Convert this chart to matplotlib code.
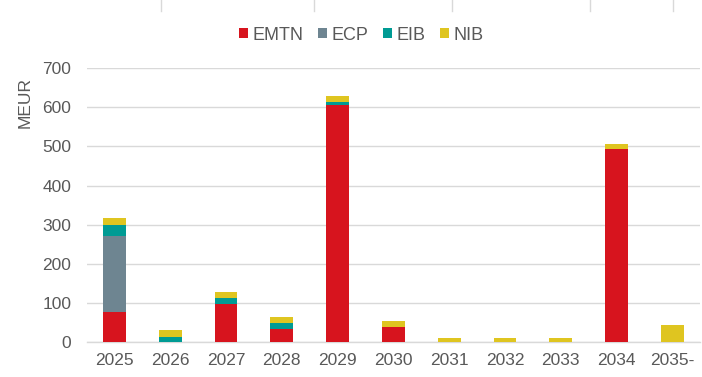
"""Stacked maturity profile of funding by instrument (MEUR)."""

import matplotlib
matplotlib.use("Agg")
import matplotlib.pyplot as plt
import numpy as np
from matplotlib.lines import Line2D
from matplotlib.patches import Patch

plt.rcParams["font.family"] = ["Liberation Sans", "DejaVu Sans"]

years = ["2025", "2026", "2027", "2028", "2029", "2030",
         "2031", "2032", "2033", "2034", "2035-"]
emtn = [77, 0, 99, 34, 606, 39, 0, 0, 0, 494, 0]
ecp = [195, 0, 0, 0, 0, 0, 0, 0, 0, 0, 0]
eib = [28, 14, 14, 15, 8, 0, 0, 0, 0, 0, 0]
nib = [18, 18, 15, 15, 15, 15, 11, 11, 11, 13, 44]

series = [("EMTN", emtn, "#d7141e"),
          ("ECP", ecp, "#6e8591"),
          ("EIB", eib, "#009b94"),
          ("NIB", nib, "#dfc520")]

TXT = "#595959"
GRID = "#d9d9d9"
FS = 12.5
W, H = 702, 377

fig = plt.figure(figsize=(W / 100, H / 100), dpi=100)
ax = fig.add_axes([86.6 / W, 34.7 / H, 613.6 / W, 274.3 / H])

x = np.arange(len(years))
bottom = np.zeros(len(years))
for name, vals, col in series:
    ax.bar(x, vals, width=0.41, bottom=bottom, color=col, zorder=3)
    bottom += np.array(vals)

ax.set_xlim(-0.5, len(years) - 0.5)
ax.set_ylim(0, 700)
ax.set_yticks(range(0, 701, 100))
ax.set_xticks(x)
ax.set_xticklabels(years)
ax.tick_params(axis="both", length=0, labelsize=FS, labelcolor=TXT)
ax.tick_params(axis="y", pad=11)
ax.tick_params(axis="x", pad=8)
ax.grid(axis="y", color=GRID, lw=1, zorder=0)
for side in ("top", "right", "left"):
    ax.spines[side].set_visible(False)
ax.spines["bottom"].set_color(GRID)
ax.spines["bottom"].set_linewidth(1)

fig.text(25 / W, 1 - 103 / H, "MEUR", rotation=90, ha="center", va="center",
         fontsize=FS, color=TXT)

handles = [Patch(facecolor=c, edgecolor="none") for _, _, c in series]
labels = [n for n, _, _ in series]
leg = fig.legend(handles, labels, loc="center", bbox_to_anchor=(361 / W, 1 - 35 / H),
                 ncol=4, frameon=False, fontsize=FS + 0.5, handlelength=0.5,
                 handleheight=0.5, handletextpad=0.25, columnspacing=0.8)
for t in leg.get_texts():
    t.set_color(TXT)

# remnants of a table border at the top edge
for px in [161, 314, 452, 590, 673]:
    fig.add_artist(Line2D([px / W, px / W], [1, 1 - 11 / H], color=GRID, lw=1))

fig.savefig("out.png", dpi=100)
